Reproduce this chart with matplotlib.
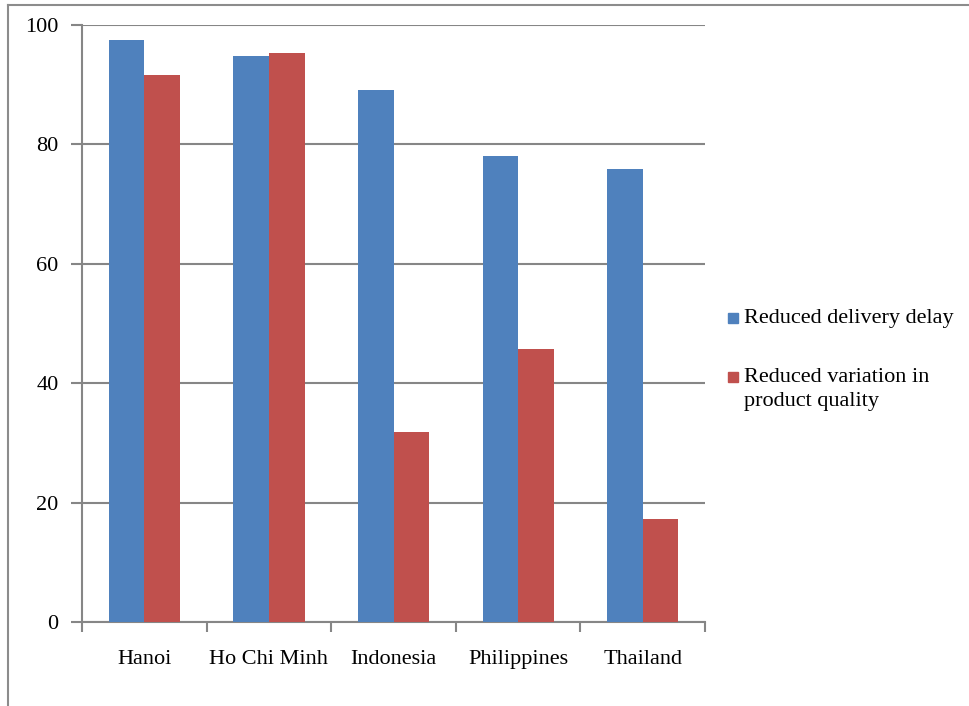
import matplotlib
matplotlib.use("Agg")
import matplotlib.pyplot as plt
from matplotlib.lines import Line2D
from matplotlib.patches import Rectangle
import numpy as np

plt.rcParams['font.family'] = ['Liberation Serif', 'DejaVu Serif']

categories = ["Hanoi", "Ho Chi Minh", "Indonesia", "Philippines", "Thailand"]
delivery_delay = [97.5, 94.8, 89.1, 78.1, 75.9]
quality_variation = [91.6, 95.3, 31.8, 45.7, 17.3]
series_names = ["Reduced delivery delay", "Reduced variation in\nproduct quality"]
y_ticks = [0, 20, 40, 60, 80, 100]

blue = "#4F81BD"
red = "#C0504D"
grid_col = "#868686"
fs = 16

W, H = 970, 706
fig = plt.figure(figsize=(W / 100, H / 100), dpi=100)

# outer chart frame (top and left edges)
fig.add_artist(Line2D([8 / W, 1.0], [1 - 5 / H, 1 - 5 / H], color="#8c8c8c", lw=1.5,
                      transform=fig.transFigure))
fig.add_artist(Line2D([8 / W, 8 / W], [0, 1 - 5 / H], color="#8c8c8c", lw=1.5,
                      transform=fig.transFigure))

ax = fig.add_axes([82 / W, 1 - 622 / H, 623 / W, 597 / H])

x = np.arange(len(categories))
bw = 1 / 3.5
ax.bar(x - bw / 2, delivery_delay, bw, color=blue, zorder=3)
ax.bar(x + bw / 2, quality_variation, bw, color=red, zorder=3)

ax.set_xlim(-0.5, len(categories) - 0.5)
ax.set_ylim(0, 100)
ax.set_yticks(y_ticks)
ax.set_yticklabels([str(t) for t in y_ticks], fontsize=fs)
ax.yaxis.grid(True, color=grid_col, lw=1.5, zorder=0)

ax.set_xticks(x)
ax.set_xticklabels(categories, fontsize=fs)
ax.tick_params(axis="x", length=0, pad=20)
ax.set_xticks(np.arange(len(categories) + 1) - 0.5, minor=True)
ax.tick_params(axis="x", which="minor", length=7, width=1.5, color=grid_col, direction="out")
ax.tick_params(axis="y", length=8, width=1.5, color=grid_col, direction="out", pad=9)

for s in ["top", "right"]:
    ax.spines[s].set_visible(False)
for s in ["left", "bottom"]:
    ax.spines[s].set_color(grid_col)
    ax.spines[s].set_linewidth(1.5)

# legend
legend_items = [(series_names[0], blue, 318), (series_names[1], red, 377)]
for name, col, ypx in legend_items:
    fig.add_artist(Rectangle((728 / W, 1 - (ypx + 5) / H), 10 / W, 10 / H, color=col,
                             transform=fig.transFigure))
    for i, line in enumerate(name.split("\n")):
        fig.text(744 / W, 1 - (ypx + 25 * i) / H, line, fontsize=fs, va="center", ha="left")

fig.savefig("out.png", dpi=100)
